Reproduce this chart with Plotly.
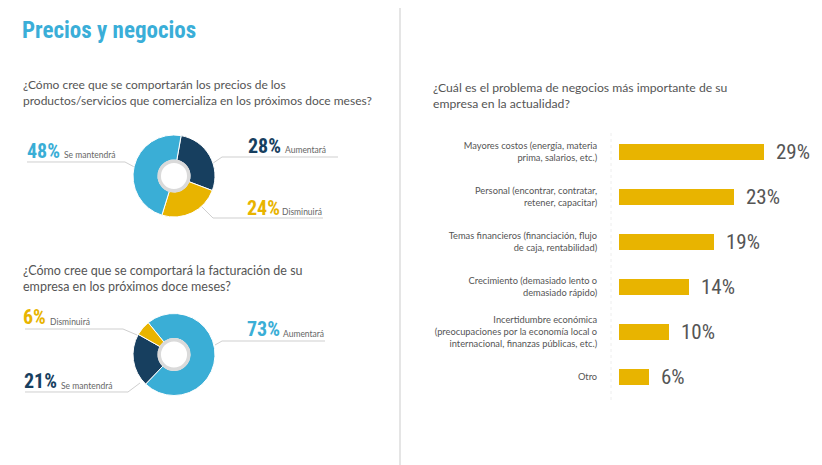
import plotly.graph_objects as go

# the page body has an 8px margin, so the figure is 8px smaller and offset
OFF = 8
W, H = 822 - OFF, 465 - OFF

# ---------------- data ----------------
titulo = "Precios y negocios"
pregunta_precios = "¿Cómo cree que se comportarán los precios de los<br>productos/servicios que comercializa en los próximos doce meses?"
pregunta_factura = "¿Cómo cree que se comportará la facturación de su<br>empresa en los próximos doce meses?"
pregunta_problema = "¿Cuál es el problema de negocios más importante de su<br>empresa en la actualidad?"

precios_labels = ["Aumentará", "Disminuirá", "Se mantendrá"]
precios_values = [28, 24, 48]

factura_labels = ["Aumentará", "Se mantendrá", "Disminuirá"]
factura_values = [73, 21, 6]

problemas = [
    "Mayores costos (energía, materia<br>prima, salarios, etc.)",
    "Personal (encontrar, contratar,<br>retener, capacitar)",
    "Temas financieros (financiación, flujo<br>de caja, rentabilidad)",
    "Crecimiento (demasiado lento o<br>demasiado rápido)",
    "Incertidumbre económica<br>(preocupaciones por la economía local o<br>internacional, finanzas públicas, etc.)",
    "Otro",
]
problemas_values = [29, 23, 19, 14, 10, 6]

# ---------------- style ----------------
BLUE = "#3aaed6"
NAVY = "#173f5f"
YELLOW = "#e8b400"
GRAY_TXT = "#555555"
BODY = "Lato, 'Open Sans', sans-serif"
COND = "'Roboto Condensed', 'Liberation Sans Narrow', 'DejaVu Sans Condensed', Roboto, sans-serif"

precios_colors = [NAVY, YELLOW, BLUE]
factura_colors = [BLUE, NAVY, YELLOW]


def fx(x):
    return (x - OFF) / W


def fy(y):
    return 1 - (y - OFF) / H


fig = go.Figure()

# ---------------- donuts ----------------
def donut(labels, values, colors, cx, cy, r, rot):
    fig.add_trace(go.Pie(
        labels=labels, values=values, hole=0.39, sort=False, direction="clockwise",
        rotation=rot, textinfo="none", hoverinfo="skip", showlegend=False,
        marker=dict(colors=colors, line=dict(color="white", width=1)),
        domain=dict(x=[fx(cx - r), fx(cx + r)], y=[fy(cy + r), fy(cy - r)]),
    ))


donut(precios_labels, precios_values, precios_colors, 174, 176, 41, 10)
donut(factura_labels, factura_values, factura_colors, 174, 354.5, 41, -39)

shapes = []
for cy in (176, 354.5):
    cx, rr = 174, 14.8
    shapes.append(dict(type="circle", xref="paper", yref="paper",
                       x0=fx(cx - rr), x1=fx(cx + rr), y0=fy(cy + rr), y1=fy(cy - rr),
                       fillcolor="white", line=dict(color="#dadada", width=3.5)))

# leader lines (px coordinates)
leaders = [
    [(27, 162), (125, 162), (140, 170)],
    [(338, 157), (222, 157), (203, 170)],
    [(323, 218), (213, 218), (193, 198)],
    [(25, 329), (123, 329), (137, 335)],
    [(325, 341), (222, 341), (215, 345)],
    [(25, 392), (128, 392), (140, 383)],
]
for pts in leaders:
    path = "M " + " L ".join(f"{fx(x):.5f},{fy(y):.5f}" for x, y in pts)
    shapes.append(dict(type="path", xref="paper", yref="paper", path=path,
                       line=dict(color="#cfcfcf", width=1), layer="below"))

# divider + faint dotted guide
shapes.append(dict(type="line", xref="paper", yref="paper", x0=fx(400), x1=fx(400), y0=fy(5), y1=0,
                   line=dict(color="#dddddd", width=1.5)))
shapes.append(dict(type="line", xref="paper", yref="paper", x0=fx(611), x1=fx(611), y0=fy(133), y1=fy(400),
                   line=dict(color="#eeeeee", width=1, dash="dot")))

annotations = []


def ann(text, x, y, size, color, family=BODY, xanchor="left", yanchor="middle", align="left"):
    annotations.append(dict(text=text, x=fx(x), y=fy(y), xref="paper", yref="paper",
                            xanchor=xanchor, yanchor=yanchor, align=align, showarrow=False,
                            font=dict(size=size, color=color, family=family)))


ann("<b>" + titulo + "</b>", 20, 30, 23, "#3aaed8", COND)
ann(pregunta_precios, 21, 93, 12, GRAY_TXT)
ann(pregunta_factura, 21, 278, 12.5, GRAY_TXT)
ann(pregunta_problema, 431, 95, 12.2, GRAY_TXT)


def donut_label(labels, values, name, color, nx, ny, wx, wy):
    v = values[labels.index(name)]
    ann(f"<b>{v}%</b>", nx, ny, 20, color, COND)
    ann(name, wx, wy, 8.5, "#666666")


donut_label(precios_labels, precios_values, "Se mantendrá", BLUE, 25, 151, 62, 155)
donut_label(precios_labels, precios_values, "Aumentará", NAVY, 246, 146, 283, 150)
donut_label(precios_labels, precios_values, "Disminuirá", YELLOW, 245, 208, 280, 212)
donut_label(factura_labels, factura_values, "Disminuirá", YELLOW, 21, 317, 48, 322)
donut_label(factura_labels, factura_values, "Aumentará", BLUE, 245, 329, 281, 334)
donut_label(factura_labels, factura_values, "Se mantendrá", NAVY, 22, 381, 59, 386)

# ---------------- bar chart ----------------
fig.add_trace(go.Bar(
    x=problemas_values, y=problemas, orientation="h", width=0.36,
    marker=dict(color=YELLOW, line=dict(width=0)), hoverinfo="skip", showlegend=False,
))
fig.add_trace(go.Scatter(
    x=[-1.6] * len(problemas), y=problemas, mode="markers", cliponaxis=False,
    marker=dict(symbol="triangle-right", size=5, color="#333333"), hoverinfo="skip", showlegend=False,
))
for cat, v in zip(problemas, problemas_values):
    annotations.append(dict(text=f"{v}%", x=v, y=cat, xref="x", yref="y", xanchor="left",
                            yanchor="middle", xshift=10, showarrow=False,
                            font=dict(size=21, color=GRAY_TXT, family=COND)))

fig.update_layout(
    width=W, height=H, margin=dict(l=0, r=0, t=0, b=0),
    paper_bgcolor="white", plot_bgcolor="white",
    xaxis=dict(domain=[fx(619), fx(819)], range=[0, 40], visible=False, fixedrange=True),
    yaxis=dict(domain=[fy(399.5), fy(129.5)], type="category", range=[5.5, -0.5],
               showgrid=False, zeroline=False, showline=False, ticks="outside", ticklen=19,
               tickcolor="rgba(0,0,0,0)", tickfont=dict(size=9.3, color=GRAY_TXT, family=BODY),
               fixedrange=True),
    shapes=shapes, annotations=annotations,
)

fig.write_html("out.html")
